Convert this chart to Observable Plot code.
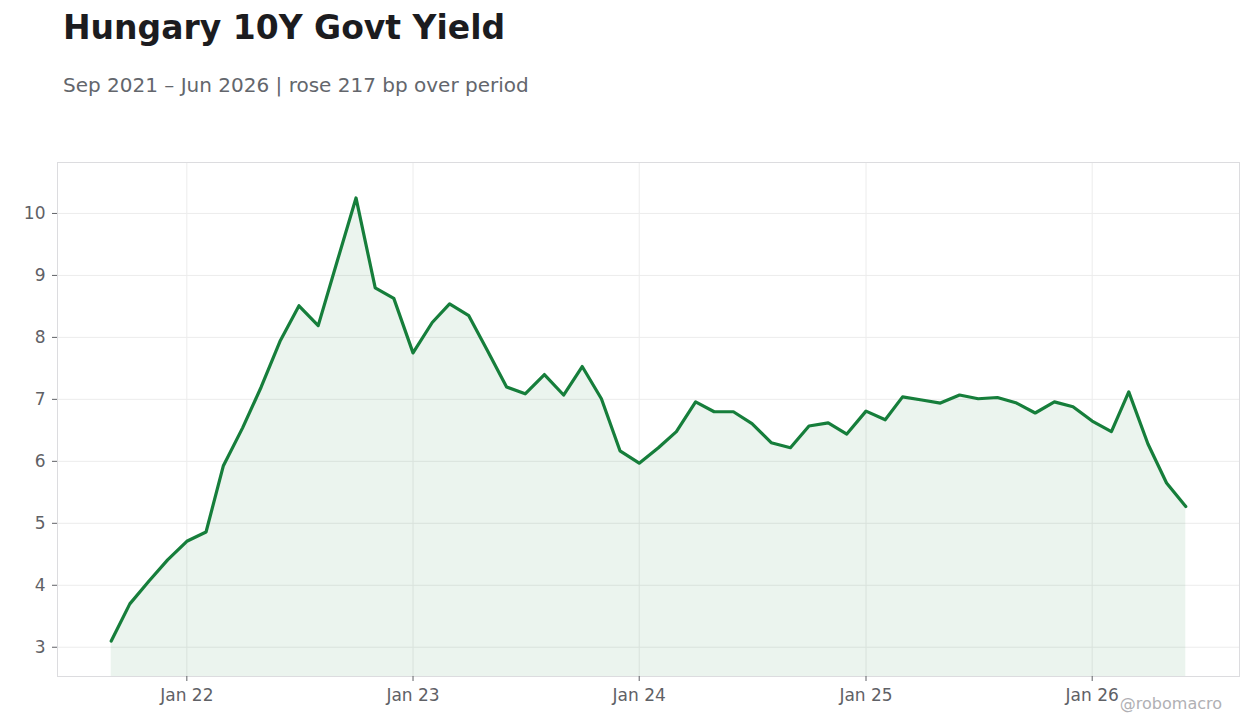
<!DOCTYPE html>
<html>
<head>
<meta charset="utf-8">
<script src="https://cdn.jsdelivr.net/npm/d3@7"></script>
<script src="https://cdn.jsdelivr.net/npm/@observablehq/plot@0.6"></script>
<style>
  html, body { margin: 0; padding: 0; background: #fff; }
  #wrap { position: relative; width: 1260px; height: 728px; font-family: "DejaVu Sans", sans-serif; overflow: hidden; }
  #title { position: absolute; left: 63px; top: 8px; font-size: 33px; font-weight: bold; color: #1c1c1f; white-space: nowrap; }
  #subtitle { position: absolute; left: 63px; top: 73px; font-size: 20px; color: #63666c; white-space: nowrap; }
  #chart { position: absolute; left: 0; top: 0; }
  #credit { position: absolute; right: 38px; top: 694px; font-size: 16px; color: #b0b0b4; white-space: nowrap; }
</style>
</head>
<body>
<div id="wrap">
  <div id="chart"></div>
  <div id="title">Hungary 10Y Govt Yield</div>
  <div id="subtitle">Sep 2021 – Jun 2026 | rose 217 bp over period</div>
  <div id="credit">@robomacro</div>
</div>
<script>
const months = [
  "2021-09","2021-10","2021-11","2021-12",
  "2022-01","2022-02","2022-03","2022-04","2022-05","2022-06","2022-07","2022-08","2022-09","2022-10","2022-11","2022-12",
  "2023-01","2023-02","2023-03","2023-04","2023-05","2023-06","2023-07","2023-08","2023-09","2023-10","2023-11","2023-12",
  "2024-01","2024-02","2024-03","2024-04","2024-05","2024-06","2024-07","2024-08","2024-09","2024-10","2024-11","2024-12",
  "2025-01","2025-02","2025-03","2025-04","2025-05","2025-06","2025-07","2025-08","2025-09","2025-10","2025-11","2025-12",
  "2026-01","2026-02","2026-03","2026-04","2026-05","2026-06"
];
const yields = [
  3.10, 3.70, 4.07, 4.41,
  4.71, 4.86, 5.93, 6.54, 7.20, 7.95, 8.51, 8.19, 9.24, 10.25, 8.80, 8.63,
  7.75, 8.24, 8.54, 8.35, 7.79, 7.20, 7.09, 7.40, 7.07, 7.53, 7.01, 6.17,
  5.97, 6.22, 6.48, 6.96, 6.80, 6.80, 6.61, 6.30, 6.22, 6.57, 6.62, 6.44,
  6.81, 6.67, 7.04, 6.99, 6.94, 7.07, 7.01, 7.03, 6.94, 6.78, 6.96, 6.88,
  6.65, 6.48, 7.12, 6.28, 5.65, 5.27
];
const xTickDates = ["2022-01-01","2023-01-01","2024-01-01","2025-01-01","2026-01-01"];
const yTicks = [3, 4, 5, 6, 7, 8, 9, 10];

const data = months.map((m, i) => ({date: new Date(m + "-01T00:00:00Z"), value: yields[i]}));
const xt = xTickDates.map(s => new Date(s + "T00:00:00Z"));

const [x0, x1] = d3.extent(data, d => d.date);
const xpad = (x1 - x0) * 0.05;
const [v0, v1] = d3.extent(data, d => d.value);
const ypad = (v1 - v0) * 0.08;
const yDomain = [v0 - ypad, v1 + ypad];

const lineColor = "#167e3b";

const chart = Plot.plot({
  width: 1260,
  height: 728,
  marginTop: 162,
  marginBottom: 52,
  marginLeft: 57,
  marginRight: 21,
  style: {fontFamily: "DejaVu Sans, sans-serif", fontSize: "17px", color: "#5f6166", background: "transparent"},
  x: {type: "utc", domain: [new Date(+x0 - xpad), new Date(+x1 + xpad)], label: null},
  y: {domain: yDomain, label: null},
  marks: [
    Plot.gridX(xt, {stroke: "#ececec", strokeOpacity: 1}),
    Plot.gridY(yTicks, {stroke: "#ececec", strokeOpacity: 1}),
    Plot.areaY(data, {x: "date", y1: yDomain[0], y2: "value", fill: lineColor, fillOpacity: 0.085, curve: "linear"}),
    Plot.lineY(data, {x: "date", y: "value", stroke: lineColor, strokeWidth: 3.2, strokeLinejoin: "round"}),
    Plot.frame({stroke: "#dcdcdf", strokeWidth: 1}),
    Plot.axisX(xt, {tickFormat: d3.utcFormat("%b %y"), tickSize: 5, tickPadding: 7, stroke: "#5f6166", label: null}),
    Plot.axisY(yTicks, {tickFormat: d3.format("d"), tickSize: 5, tickPadding: 7, stroke: "#5f6166", label: null})
  ]
});
document.getElementById("chart").appendChild(chart);
</script>
</body>
</html>
